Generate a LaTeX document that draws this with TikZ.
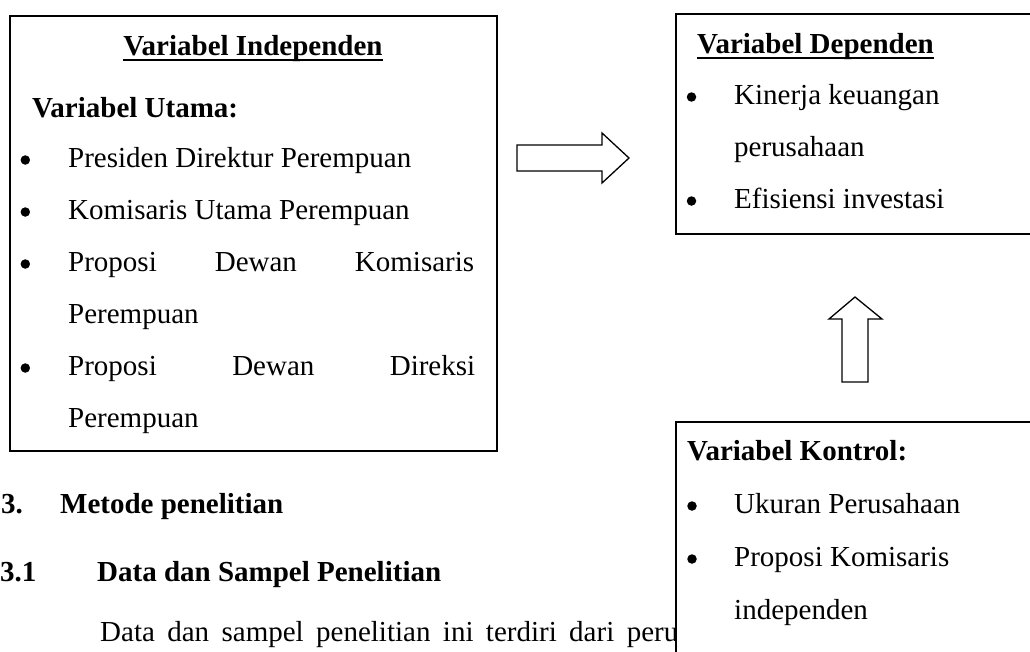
\documentclass[tikz,border=0pt]{standalone}
\usepackage{fontspec}
\setmainfont{Liberation Serif}

\begin{document}
\begin{tikzpicture}[x=1pt,y=-1pt,
        box/.style={draw,line width=1.8pt,fill=white},
        txt/.style={anchor=base west,inner sep=0pt,font=\fontsize{29}{34}\selectfont},
        hd/.style={txt,font=\fontsize{29}{34}\selectfont\bfseries},
        dot/.style={circle,fill,inner sep=0pt,minimum size=9.5pt},
        uline/.style={line width=2pt},
        blockarrow/.style={draw,line width=1.3pt,line join=miter}
    ]
    \useasboundingbox (0,0) rectangle (1030,651);
    \clip (0,0) rectangle (1030,651);

    \draw[box] (10,16) rectangle (497,451);
    \node[hd,anchor=base] (hindep) at (253,55) {Variabel Independen};
    \draw[uline] ([yshift=-5pt]hindep.base west) -- ([yshift=-5pt]hindep.base east);
    \node[hd] (utama) at (32,117) {Variabel Utama:};
    \foreach \y in {167,219,271,375}
        \node[dot] (bi\y) at (25.3,\y-7) {};
    \node[txt] (presdir) at (68,167) {Presiden Direktur Perempuan};
    \node[txt] (komut) at (68,219) {Komisaris Utama Perempuan};
    \node[txt] (dekom) at (68,271) {\makebox[406pt][s]{Proposi Dewan Komisaris}};
    \node[txt] (dekomb) at (68,323) {Perempuan};
    \node[txt] (direksi) at (68,375) {\makebox[407pt][s]{Proposi Dewan Direksi}};
    \node[txt] (direksib) at (68,427) {Perempuan};

    \draw[blockarrow] (517,145) -- (602,145) -- (602,133) -- (629,158)
        -- (602,183) -- (602,171) -- (517,171) -- cycle;
    \draw[blockarrow] (842,382) -- (842,319) -- (829,319) -- (855,297)
        -- (882,319) -- (868,319) -- (868,382) -- cycle;

    \draw[box] (676,14) rectangle (1040,234);
    \node[hd] (hdep) at (697,53) {Variabel Dependen};
    \draw[uline] ([yshift=-5pt]hdep.base west) -- ([yshift=-5pt]hdep.base east);
    \foreach \y in {104,208}
        \node[dot] (bd\y) at (691.5,\y-7) {};
    \node[txt] (kinerja) at (734,104) {Kinerja keuangan};
    \node[txt] (kinerjab) at (734,156) {perusahaan};
    \node[txt] (efisiensi) at (734,208) {Efisiensi investasi};

    \node[hd] (bab) at (1,513) {3.};
    \node[hd] (metode) at (60,513) {Metode penelitian};
    \node[hd] (subbab) at (0,581) {3.1};
    \node[hd] (sampel) at (97,581) {Data dan Sampel Penelitian};
    \node[txt] (isi) at (100,641) {\makebox[578pt][s]{Data dan sampel penelitian ini terdiri dari peru}};

    \draw[box] (676,422) rectangle (1040,670);
    \node[hd] (hkontrol) at (687,460) {Variabel Kontrol:};
    \foreach \y in {513,566}
        \node[dot] (bk\y) at (692,\y-7) {};
    \node[txt] (ukuran) at (734,513) {Ukuran Perusahaan};
    \node[txt] (kominde) at (734,566) {Proposi Komisaris};
    \node[txt] (komindeb) at (734,619) {independen};
\end{tikzpicture}
\end{document}
